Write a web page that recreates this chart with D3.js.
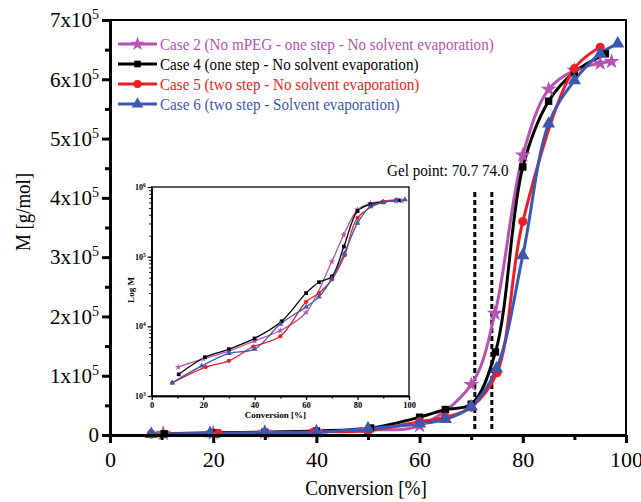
<!DOCTYPE html>
<html>
<head>
<meta charset="utf-8">
<script src="https://cdn.jsdelivr.net/npm/d3@7/dist/d3.min.js"></script>
<style>
  html, body { margin: 0; padding: 0; background: #fff; }
  svg { display: block; }
</style>
</head>
<body>
<svg id="chart" width="641" height="502"></svg>
<script>
// Molecular weight vs. conversion for four synthesis cases
const seriesNames = [
  "Case 2 (No mPEG - one step - No solvent evaporation)",
  "Case 4 (one step - No solvent evaporation)",
  "Case 5 (two step - No solvent evaporation)",
  "Case 6 (two step - Solvent evaporation)"
];
const seriesColors = ["#b552b2", "#000000", "#ee1c24", "#3b58b0"];
const seriesSymbols = [d3.symbolStar, d3.symbolSquare, d3.symbolCircle, d3.symbolTriangle];

// Conversion [%]
const conv2 = [10.3, 20, 30, 40, 50, 60, 70, 74.6, 80, 85, 90, 95, 97.2];
const conv4 = [10.5, 20.7, 30, 40, 50.5, 60, 65, 70, 74.7, 80, 85, 90, 96];
const conv5 = [8, 21, 30, 39.5, 50, 60, 65, 70, 75, 80, 90, 95];
const conv6 = [8, 19.4, 30, 40, 50, 60, 65, 70, 74.9, 80, 85, 90, 95, 98.4];

// M [g/mol]
const m2 = [2600, 3400, 4400, 6200, 8700, 15800, 85000, 205000, 472000, 583000, 615000, 627000, 630000];
const m4 = [2050, 3600, 4700, 6700, 11800, 30000, 43000, 52000, 140000, 452000, 563000, 612000, 643000];
const m5 = [1550, 2600, 3200, 5100, 7200, 22500, 30000, 47000, 105000, 360000, 618000, 654000];
const m6 = [1550, 2700, 4100, 4700, 10800, 19000, 26500, 48000, 112000, 303000, 525000, 598000, 643000, 660000];

const convSeries = [conv2, conv4, conv5, conv6];
const mSeries = [m2, m4, m5, m6];

// Axis ticks
const xTicks = [0, 20, 40, 60, 80, 100];
const xMinorTicks = [10, 30, 50, 70, 90];
const yTicks = [0, 100000, 200000, 300000, 400000, 500000, 600000, 700000];
const yMinorTicks = [50000, 150000, 250000, 350000, 450000, 550000, 650000];
const insetXTicks = [0, 20, 40, 60, 80, 100];
const insetXMinorTicks = [10, 30, 50, 70, 90];
const insetYTicks = [1e3, 1e4, 1e5, 1e6];

// Gel points
const gelPoints = [70.7, 74.0];
const gelLabel = "Gel point: 70.7  74.0";
const gelLineRange = [4.1e5, 0.05e5];

const FONT = '"Liberation Serif"';

// squeeze a text element horizontally to a fraction of its natural width
function condense(sel, factor) {
  sel.each(function () {
    const w = this.getComputedTextLength();
    d3.select(this).attr("textLength", w * factor).attr("lengthAdjust", "spacingAndGlyphs");
  });
}

const svg = d3.select("#chart");

// ---------- main plot ----------
const x = d3.scaleLinear().domain([0, 100]).range([110, 626]);
const y = d3.scaleLinear().domain([0, 700000]).range([435, 20]);

// frame
svg.append("rect")
  .attr("x", x(0)).attr("y", y(700000))
  .attr("width", x(100) - x(0)).attr("height", y(0) - y(700000))
  .attr("fill", "none").attr("stroke", "#000").attr("stroke-width", 2);

const data = convSeries.map((c, i) => c.map((v, j) => ({ x: v, y: mSeries[i][j] })));

// dashed gel lines
svg.append("g").selectAll("line").data(gelPoints).join("line")
  .attr("x1", d => x(d)).attr("x2", d => x(d))
  .attr("y1", y(gelLineRange[0])).attr("y2", y(gelLineRange[1]))
  .attr("stroke", "#000").attr("stroke-width", 3).attr("stroke-dasharray", "5,3");

svg.append("text")
  .attr("x", 387).attr("y", 176)
  .attr("font-size", 17).style("font-family", FONT)
  .text(gelLabel)
  .call(condense, 0.89);

// curves
const line = d3.line().x(d => x(d.x)).y(d => y(d.y)).curve(d3.curveCatmullRom.alpha(0.5));
const curves = svg.append("g");
data.forEach((pts, i) => {
  curves.append("path").datum(pts)
    .attr("d", line)
    .attr("fill", "none").attr("stroke", seriesColors[i]).attr("stroke-width", 3);
});
const markerSizes = [80, 55, 65, 75];
data.forEach((pts, i) => {
  curves.append("g").selectAll("path").data(pts).join("path")
    .attr("transform", d => `translate(${x(d.x)},${y(d.y)})`)
    .attr("d", d3.symbol().type(seriesSymbols[i]).size(markerSizes[i]))
    .attr("fill", seriesColors[i]);
});

// axes
function styleAxis(g, width) {
  g.select(".domain").attr("stroke-width", width);
  g.selectAll(".tick line").attr("stroke-width", width);
  g.selectAll(".tick text").style("font-family", FONT).attr("fill", "#000");
}
const gx = svg.append("g").attr("transform", `translate(0,${y(0)})`)
  .call(d3.axisBottom(x).tickValues(xTicks).tickSize(8).tickSizeOuter(0).tickPadding(8));
styleAxis(gx, 3);
gx.selectAll(".tick text").attr("font-size", 22);
const gxm = svg.append("g").attr("transform", `translate(0,${y(0)})`)
  .call(d3.axisBottom(x).tickValues(xMinorTicks).tickSize(5).tickFormat("").tickSizeOuter(0));
styleAxis(gxm, 3);

const gy = svg.append("g").attr("transform", `translate(${x(0)},0)`)
  .call(d3.axisLeft(y).tickValues(yTicks).tickSize(8).tickSizeOuter(0).tickPadding(3).tickFormat(() => ""));
styleAxis(gy, 3);
gy.selectAll(".tick text").each(function (d) {
  const t = d3.select(this).attr("font-size", 21);
  if (d === 0) { t.text("0"); return; }
  t.append("tspan").text(`${d / 100000}x10`);
  t.append("tspan").attr("font-size", 14).attr("dy", -8).text("5");
});
const gym = svg.append("g").attr("transform", `translate(${x(0)},0)`)
  .call(d3.axisLeft(y).tickValues(yMinorTicks).tickSize(5).tickFormat("").tickSizeOuter(0));
styleAxis(gym, 3);

// axis titles
svg.append("text")
  .attr("x", x(50) - 2).attr("y", 495)
  .attr("text-anchor", "middle").attr("font-size", 22).style("font-family", FONT)
  .text("Conversion [%]")
  .call(condense, 0.87);
svg.append("text")
  .attr("transform", `translate(30,212) rotate(-90)`)
  .attr("text-anchor", "middle").attr("font-size", 21).style("font-family", FONT)
  .text("M [g/mol]")
  .call(condense, 0.9);

// legend
const legend = svg.append("g");
seriesNames.forEach((name, i) => {
  const ly = 44 + i * 20;
  legend.append("line").attr("x1", 118).attr("x2", 157).attr("y1", ly).attr("y2", ly)
    .attr("stroke", seriesColors[i]).attr("stroke-width", 3);
  legend.append("path")
    .attr("transform", `translate(137.5,${ly})`)
    .attr("d", d3.symbol().type(seriesSymbols[i]).size(markerSizes[i] * 0.8))
    .attr("fill", seriesColors[i]);
  legend.append("text").attr("x", 160).attr("y", ly + 6)
    .attr("font-size", 17.5).style("font-family", FONT).attr("fill", seriesColors[i])
    .text(name)
    .call(condense, 0.865);
});

// ---------- inset (log scale) ----------
const xi = d3.scaleLinear().domain([0, 100]).range([151.7, 409]);
const yi = d3.scaleLog().domain([1e3, 1e6]).range([396, 187]);
const inset = svg.append("g");
inset.append("rect")
  .attr("x", xi(0)).attr("y", yi(1e6))
  .attr("width", xi(100) - xi(0)).attr("height", yi(1e3) - yi(1e6))
  .attr("fill", "#fff").attr("stroke", "#000").attr("stroke-width", 1.3);

const lineIn = d3.line().x(d => xi(d.x)).y(d => yi(d.y)).curve(d3.curveCatmullRom.alpha(0.5));
data.forEach((pts, i) => {
  inset.append("path").datum(pts)
    .attr("d", lineIn)
    .attr("fill", "none").attr("stroke", seriesColors[i]).attr("stroke-width", 1.3);
});
data.forEach((pts, i) => {
  inset.append("g").selectAll("path").data(pts).join("path")
    .attr("transform", d => `translate(${xi(d.x)},${yi(d.y)})`)
    .attr("d", d3.symbol().type(seriesSymbols[i]).size(14))
    .attr("fill", seriesColors[i]);
});

const gix = inset.append("g").attr("transform", `translate(0,${yi(1e3)})`)
  .call(d3.axisBottom(xi).tickValues(insetXTicks).tickSize(4).tickSizeOuter(0).tickPadding(2));
styleAxis(gix, 1.3);
gix.selectAll(".tick text").attr("font-size", 8.5).attr("font-weight", "bold");
const gixm = inset.append("g").attr("transform", `translate(0,${yi(1e3)})`)
  .call(d3.axisBottom(xi).tickValues(insetXMinorTicks).tickSize(2.5).tickFormat("").tickSizeOuter(0));
styleAxis(gixm, 1.3);

const insetMinorY = yi.ticks().filter(v => !insetYTicks.includes(v));
const giy = inset.append("g").attr("transform", `translate(${xi(0)},0)`)
  .call(d3.axisLeft(yi).tickValues(insetYTicks).tickSize(4).tickSizeOuter(0).tickPadding(2).tickFormat(() => ""));
styleAxis(giy, 1.3);
giy.selectAll(".tick text").each(function (d) {
  const t = d3.select(this).attr("font-size", 8).attr("font-weight", "bold");
  t.append("tspan").text("10");
  t.append("tspan").attr("font-size", 5.5).attr("dy", -3).text(String(Math.round(Math.log10(d))));
});
const giym = inset.append("g").attr("transform", `translate(${xi(0)},0)`)
  .call(d3.axisLeft(yi).tickValues(insetMinorY).tickSize(2.5).tickFormat("").tickSizeOuter(0));
styleAxis(giym, 1);

inset.append("text")
  .attr("x", (xi(0) + xi(100)) / 2 - 5).attr("y", 418)
  .attr("text-anchor", "middle").attr("font-size", 9).attr("font-weight", "bold").style("font-family", FONT)
  .text("Conversion [%]");
inset.append("text")
  .attr("transform", `translate(134,290) rotate(-90)`)
  .attr("text-anchor", "middle").attr("font-size", 9).attr("font-weight", "bold").style("font-family", FONT)
  .text("Log M");
</script>
</body>
</html>
